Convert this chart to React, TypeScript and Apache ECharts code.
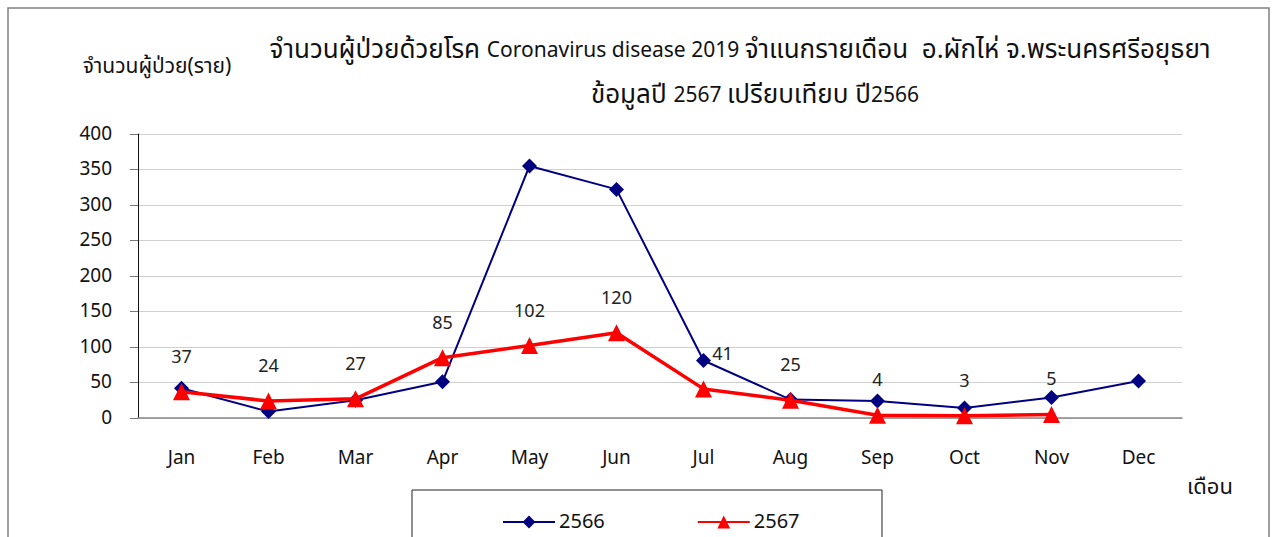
import React, { useEffect, useRef } from "react";
import * as echarts from "echarts";

const months = ["Jan", "Feb", "Mar", "Apr", "May", "Jun", "Jul", "Aug", "Sep", "Oct", "Nov", "Dec"];
const y2566 = [42, 9, 25, 51, 355, 322, 81, 26, 24, 14, 29, 52];
const y2567: (number | null)[] = [37, 24, 27, 85, 102, 120, 41, 25, 4, 3, 5, null];
const titleL1a = "จำนวนผู้ป่วยด้วยโรค ";
const titleL1b = "Coronavirus disease 2019 ";
const titleL1c = "จำแนกรายเดือน  อ.ผักไห่ จ.พระนครศรีอยุธยา";
const titleL2a = "ข้อมูลปี ";
const titleL2b = "2567 ";
const titleL2c = "เปรียบเทียบ ";
const titleL2d = "ปี";
const titleL2e = "2566";
const yAxisName = "จำนวนผู้ป่วย(ราย)";
const xAxisName = "เดือน";

const FONT = "Tahoma, 'Leelawadee UI', 'Noto Sans Thai', 'Noto Sans', 'DejaVu Sans', sans-serif";

export default function App() {
  const ref = useRef<HTMLDivElement>(null);
  useEffect(() => {
    if (!ref.current) return;
    const chart = echarts.init(ref.current, null, { renderer: "svg" });
    const rich = {
      th: { fontSize: 26, fill: "#111", fontFamily: FONT },
      en: { fontSize: 21, fill: "#111", fontFamily: FONT },
    };
    const redData = y2567.map((v, i) =>
      months[i] === "Jul" ? { value: v, label: { offset: [19, 0] } } : v
    );
    chart.setOption({
      animation: false,
      backgroundColor: "#ffffff",
      textStyle: { fontFamily: FONT },
      grid: { left: 138, right: 91, top: 134, bottom: 119, containLabel: false },
      graphic: [
        {
          type: "rect",
          shape: { x: 8, y: 8, width: 1261, height: 560 },
          style: { fill: "none", stroke: "#808080", lineWidth: 1.5 },
        },
        {
          type: "text",
          x: 740,
          y: 50,
          style: {
            text: `{th|${titleL1a}}{en|${titleL1b}}{th|${titleL1c}}`,
            rich,
            textAlign: "center",
            textVerticalAlign: "middle",
          },
        },
        {
          type: "text",
          x: 755,
          y: 95,
          style: {
            text: `{th|${titleL2a}}{en|${titleL2b}}{th|${titleL2c}}{th|${titleL2d}}{en|${titleL2e}}`,
            rich,
            textAlign: "center",
            textVerticalAlign: "middle",
          },
        },
        {
          type: "text",
          x: 157,
          y: 66,
          style: { text: yAxisName, fontSize: 21, fill: "#111", textAlign: "center", textVerticalAlign: "middle", fontFamily: FONT },
        },
        {
          type: "text",
          x: 1210,
          y: 487,
          style: { text: xAxisName, fontSize: 22, fill: "#111", textAlign: "center", textVerticalAlign: "middle", fontFamily: FONT },
        },
        {
          type: "rect",
          shape: { x: 412, y: 490, width: 470, height: 70 },
          style: { fill: "#fff", stroke: "#222", lineWidth: 1 },
          z: 0,
        },
      ],
      legend: {
        left: 497,
        top: 507,
        itemWidth: 52,
        itemHeight: 16,
        itemGap: 92,
        textStyle: { fontSize: 20, color: "#111", fontFamily: FONT, padding: [0, 0, 0, -1] },
        data: ["2566", "2567"],
        z: 10,
      },
      xAxis: {
        type: "category",
        data: months,
        boundaryGap: true,
        axisLine: { lineStyle: { color: "#888", width: 1.5 } },
        axisTick: { alignWithLabel: true, length: 8, lineStyle: { color: "#222" } },
        axisLabel: { fontSize: 19, color: "#111", margin: 31, fontFamily: FONT },
        splitLine: { show: false },
      },
      yAxis: {
        type: "value",
        min: 0,
        max: 400,
        interval: 50,
        axisLine: { show: true, lineStyle: { color: "#111", width: 1 } },
        axisTick: { show: true, length: 8, lineStyle: { color: "#777" } },
        axisLabel: { fontSize: 19, color: "#111", margin: 26, fontFamily: FONT },
        splitLine: { show: true, lineStyle: { color: "#d0d0d0", width: 1 } },
      },
      series: [
        {
          name: "2566",
          type: "line",
          data: y2566,
          symbol: "diamond",
          symbolSize: 15,
          color: "#000080",
          lineStyle: { color: "#000080", width: 2 },
          itemStyle: { color: "#000080" },
          z: 3,
        },
        {
          name: "2567",
          type: "line",
          data: redData,
          symbol: "triangle",
          symbolSize: 17,
          color: "#ff0000",
          lineStyle: { color: "#ff0000", width: 3.5 },
          itemStyle: { color: "#ff0000" },
          label: { show: true, position: "top", distance: 17, fontSize: 18, color: "#222", fontFamily: FONT },
          z: 4,
        },
      ],
    });
    return () => chart.dispose();
  }, []);
  return (
    <div
      ref={ref}
      style={{ position: "absolute", left: 0, top: 0, width: 1273, height: 537 }}
    />
  );
}
